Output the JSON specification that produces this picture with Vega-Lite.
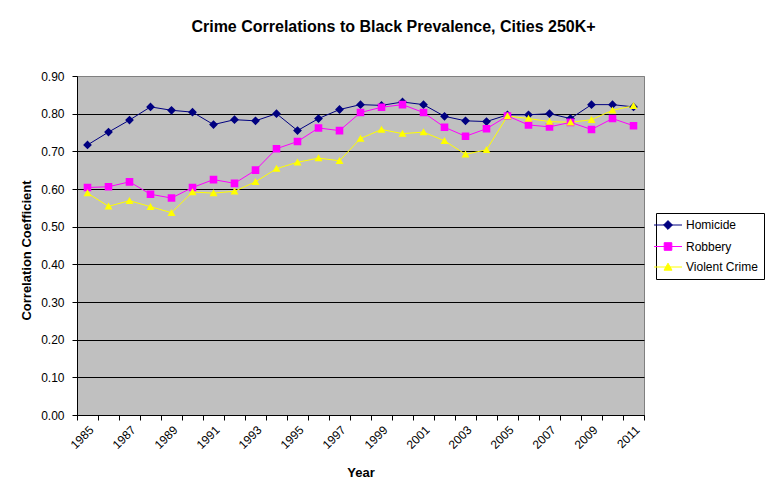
{
  "$schema": "https://vega.github.io/schema/vega-lite/v6.json",
  "width": 567,
  "height": 339,
  "autosize": {"type": "none"},
  "padding": {"left": 77, "top": 76, "right": 137, "bottom": 87},
  "background": "white",
  "title": {
    "text": "Crime Correlations to Black Prevalence, Cities 250K+",
    "fontSize": 16,
    "font": "Liberation Sans",
    "fontWeight": "bold",
    "color": "black",
    "anchor": "middle",
    "frame": "group",
    "dx": 33,
    "offset": 22,
    "baseline": "alphabetic"
  },
  "config": {
    "view": {"fill": "#C0C0C0", "stroke": "#808080", "strokeWidth": 1},
    "font": "Liberation Sans"
  },
  "data": {
    "values": [
      {"year": 1985, "series": "Homicide", "value": 0.717},
      {"year": 1986, "series": "Homicide", "value": 0.751},
      {"year": 1987, "series": "Homicide", "value": 0.783},
      {"year": 1988, "series": "Homicide", "value": 0.818},
      {"year": 1989, "series": "Homicide", "value": 0.809},
      {"year": 1990, "series": "Homicide", "value": 0.804},
      {"year": 1991, "series": "Homicide", "value": 0.771},
      {"year": 1992, "series": "Homicide", "value": 0.784},
      {"year": 1993, "series": "Homicide", "value": 0.781},
      {"year": 1994, "series": "Homicide", "value": 0.800},
      {"year": 1995, "series": "Homicide", "value": 0.755},
      {"year": 1996, "series": "Homicide", "value": 0.787},
      {"year": 1997, "series": "Homicide", "value": 0.811},
      {"year": 1998, "series": "Homicide", "value": 0.824},
      {"year": 1999, "series": "Homicide", "value": 0.822},
      {"year": 2000, "series": "Homicide", "value": 0.831},
      {"year": 2001, "series": "Homicide", "value": 0.824},
      {"year": 2002, "series": "Homicide", "value": 0.793},
      {"year": 2003, "series": "Homicide", "value": 0.781},
      {"year": 2004, "series": "Homicide", "value": 0.779},
      {"year": 2005, "series": "Homicide", "value": 0.797},
      {"year": 2006, "series": "Homicide", "value": 0.797},
      {"year": 2007, "series": "Homicide", "value": 0.800},
      {"year": 2008, "series": "Homicide", "value": 0.787},
      {"year": 2009, "series": "Homicide", "value": 0.824},
      {"year": 2010, "series": "Homicide", "value": 0.824},
      {"year": 2011, "series": "Homicide", "value": 0.818},
      {"year": 1985, "series": "Robbery", "value": 0.604},
      {"year": 1986, "series": "Robbery", "value": 0.606},
      {"year": 1987, "series": "Robbery", "value": 0.619},
      {"year": 1988, "series": "Robbery", "value": 0.586},
      {"year": 1989, "series": "Robbery", "value": 0.576},
      {"year": 1990, "series": "Robbery", "value": 0.604},
      {"year": 1991, "series": "Robbery", "value": 0.625},
      {"year": 1992, "series": "Robbery", "value": 0.615},
      {"year": 1993, "series": "Robbery", "value": 0.650},
      {"year": 1994, "series": "Robbery", "value": 0.707},
      {"year": 1995, "series": "Robbery", "value": 0.726},
      {"year": 1996, "series": "Robbery", "value": 0.762},
      {"year": 1997, "series": "Robbery", "value": 0.755},
      {"year": 1998, "series": "Robbery", "value": 0.803},
      {"year": 1999, "series": "Robbery", "value": 0.817},
      {"year": 2000, "series": "Robbery", "value": 0.824},
      {"year": 2001, "series": "Robbery", "value": 0.803},
      {"year": 2002, "series": "Robbery", "value": 0.764},
      {"year": 2003, "series": "Robbery", "value": 0.740},
      {"year": 2004, "series": "Robbery", "value": 0.760},
      {"year": 2005, "series": "Robbery", "value": 0.794},
      {"year": 2006, "series": "Robbery", "value": 0.770},
      {"year": 2007, "series": "Robbery", "value": 0.765},
      {"year": 2008, "series": "Robbery", "value": 0.777},
      {"year": 2009, "series": "Robbery", "value": 0.758},
      {"year": 2010, "series": "Robbery", "value": 0.787},
      {"year": 2011, "series": "Robbery", "value": 0.768},
      {"year": 1985, "series": "Violent Crime", "value": 0.589},
      {"year": 1986, "series": "Violent Crime", "value": 0.554},
      {"year": 1987, "series": "Violent Crime", "value": 0.569},
      {"year": 1988, "series": "Violent Crime", "value": 0.553},
      {"year": 1989, "series": "Violent Crime", "value": 0.537},
      {"year": 1990, "series": "Violent Crime", "value": 0.592},
      {"year": 1991, "series": "Violent Crime", "value": 0.589},
      {"year": 1992, "series": "Violent Crime", "value": 0.594},
      {"year": 1993, "series": "Violent Crime", "value": 0.619},
      {"year": 1994, "series": "Violent Crime", "value": 0.654},
      {"year": 1995, "series": "Violent Crime", "value": 0.671},
      {"year": 1996, "series": "Violent Crime", "value": 0.682},
      {"year": 1997, "series": "Violent Crime", "value": 0.675},
      {"year": 1998, "series": "Violent Crime", "value": 0.734},
      {"year": 1999, "series": "Violent Crime", "value": 0.758},
      {"year": 2000, "series": "Violent Crime", "value": 0.747},
      {"year": 2001, "series": "Violent Crime", "value": 0.751},
      {"year": 2002, "series": "Violent Crime", "value": 0.728},
      {"year": 2003, "series": "Violent Crime", "value": 0.692},
      {"year": 2004, "series": "Violent Crime", "value": 0.704},
      {"year": 2005, "series": "Violent Crime", "value": 0.794},
      {"year": 2006, "series": "Violent Crime", "value": 0.787},
      {"year": 2007, "series": "Violent Crime", "value": 0.779},
      {"year": 2008, "series": "Violent Crime", "value": 0.777},
      {"year": 2009, "series": "Violent Crime", "value": 0.784},
      {"year": 2010, "series": "Violent Crime", "value": 0.809},
      {"year": 2011, "series": "Violent Crime", "value": 0.821}
    ]
  },
  "encoding": {
    "x": {
      "field": "year",
      "type": "ordinal",
      "scale": {"type": "band", "paddingInner": 0, "paddingOuter": 0},
      "axis": {
        "title": "Year",
        "titleFontSize": 13,
        "titleFontWeight": "bold",
        "titleColor": "black",
        "titleY": 61,
        "titleBaseline": "alphabetic",
        "labelAngle": -45,
        "labelAlign": "right",
        "labelBaseline": "top",
        "labelFontSize": 12,
        "labelColor": "black",
        "labelPadding": 4,
        "labelOverlap": false,
        "labelExpr": "datum.value % 2 == 1 ? datum.label : ''",
        "tickBand": "extent",
        "tickSize": 5,
        "tickColor": "black",
        "domainColor": "black",
        "grid": false
      }
    },
    "y": {
      "field": "value",
      "type": "quantitative",
      "scale": {"domain": [0, 0.9], "nice": false},
      "axis": {
        "title": "Correlation Coefficient",
        "titleFontSize": 13,
        "titleFontWeight": "bold",
        "titleColor": "black",
        "titleX": -51,
        "titleY": 174,
        "titleBaseline": "middle",
        "values": [0, 0.1, 0.2, 0.3, 0.4, 0.5, 0.6, 0.7, 0.8, 0.9],
        "format": ".2f",
        "labelFontSize": 12,
        "labelColor": "black",
        "labelPadding": 8,
        "tickSize": 5,
        "tickColor": "black",
        "domainColor": "black",
        "grid": true,
        "gridColor": {"condition": {"test": "datum.value > 0.85", "value": "#808080"}, "value": "black"},
        "gridOpacity": 1
      }
    },
    "color": {
      "field": "series",
      "type": "nominal",
      "scale": {
        "domain": ["Homicide", "Robbery", "Violent Crime"],
        "range": ["#000080", "#FF00FF", "#FFFF00"]
      },
      "legend": {
        "title": null,
        "orient": "none",
        "legendX": 579,
        "legendY": 137,
        "padding": 6,
        "strokeColor": "black",
        "fillColor": "white",
        "symbolSize": 64,
        "symbolStrokeWidth": 1,
        "labelOffset": 12,
        "rowPadding": 8.5,
        "labelFontSize": 12,
        "labelColor": "black",
        "labelFont": "Liberation Sans",
        "encode": {
          "symbols": {
            "update": {
              "fill": {"signal": "scale('color', datum.value)"},
              "stroke": {"signal": "scale('color', datum.value)"},
              "strokeWidth": {"value": 1},
              "opacity": {"value": 1},
              "fillOpacity": {"value": 1}
            }
          }
        }
      }
    }
  },
  "layer": [
    {"mark": {"type": "line", "strokeWidth": 1}},
    {
      "mark": {"type": "point", "filled": true, "size": 64, "opacity": 1, "strokeWidth": 0},
      "encoding": {
        "shape": {
          "field": "series",
          "type": "nominal",
          "scale": {
            "domain": ["Homicide", "Robbery", "Violent Crime"],
            "range": [
              "M-3.5,0H3.5M0,-1.1L1.1,0L0,1.1L-1.1,0Z",
              "M-3.5,0H3.5M-0.95,-0.95H0.95V0.95H-0.95Z",
              "M-3.5,0H3.5M0,-0.95L1,0.8L-1,0.8Z"
            ]
          }
        }
      }
    }
  ]
}
